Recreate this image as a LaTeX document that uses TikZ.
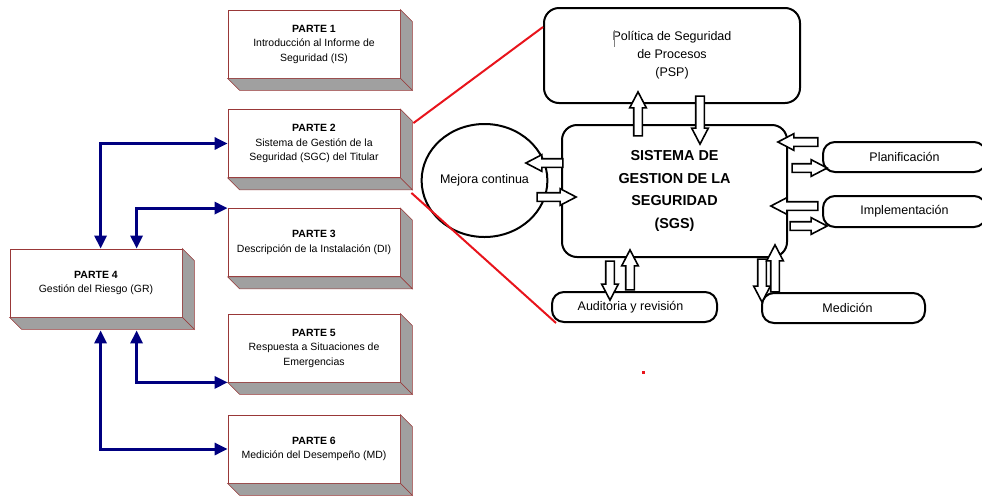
\documentclass[tikz,border=0pt]{standalone}
\usepackage{fontspec}
\setmainfont{Liberation Sans}
\usetikzlibrary{shapes.arrows,shapes.geometric,arrows.meta,calc}
\definecolor{boxedge}{HTML}{993838}
\definecolor{faceg}{HTML}{A0A0A0}
\definecolor{navyb}{HTML}{000080}
\definecolor{redl}{HTML}{E8141C}
\newcommand{\depthfaces}[1]{%
  \filldraw[facestyle] (#1.north east) -- ++(12,12) -- ($(#1.south east)+(12,12)$) -- (#1.south east) -- cycle;
  \filldraw[facestyle] (#1.south west) -- ++(12,12) -- ($(#1.south east)+(12,12)$) -- (#1.south east) -- cycle;
}
\tikzset{
  facestyle/.style={fill=faceg, draw=boxedge, line width=0.6pt},
  partbox/.style={draw=boxedge, line width=0.8pt, fill=white, minimum width=172pt, minimum height=68pt,
    inner sep=0pt, align=center, font=\fontsize{10.5}{14.5}\selectfont},
  blueline/.style={draw=navyb, line width=3pt,
    {Triangle[length=13pt,width=12pt]}-{Triangle[length=13pt,width=12pt]}},
  redline/.style={draw=redl, line width=2pt},
  rbox/.style={draw=black, line width=2pt, fill=white, rounded corners=15pt, inner sep=0pt, align=center},
  sbox/.style={draw=black, line width=2pt, fill=white, rounded corners=12pt, inner sep=0pt, align=center,
    font=\fontsize{12.5}{15}\selectfont},
  blockar/.style={single arrow, draw=black, fill=white, line width=1.6pt,
    single arrow head extend=4pt, single arrow tip angle=55, inner sep=3.5pt,
    minimum height=#1},
}
\begin{document}
\begin{tikzpicture}[x=1pt,y=-1pt]
\useasboundingbox (0,0) rectangle (982,496);
% left part boxes
\node[partbox] (P1) at (314,44) {\textbf{PARTE 1}\\Introducción al Informe de\\Seguridad (IS)};
\node[partbox] (P2) at (314,143.5) {\textbf{PARTE 2}\\Sistema de Gestión de la\\Seguridad (SGC) del Titular};
\node[partbox] (P3) at (314,242.5) {\textbf{PARTE 3}\\Descripción de la Instalación (DI)};
\node[partbox] (P4) at (96,283) {\textbf{PARTE 4}\\Gestión del Riesgo (GR)};
\node[partbox] (P5) at (314,348) {\textbf{PARTE 5}\\Respuesta a Situaciones de\\Emergencias};
\node[partbox] (P6) at (314,449) {\textbf{PARTE 6}\\Medición del Desempeño (MD)};
\depthfaces{P1}\depthfaces{P2}\depthfaces{P3}\depthfaces{P4}\depthfaces{P5}\depthfaces{P6}
% blue connectors
\draw[blueline] ($(P4.north west)+(91,0)$) |- (P2.west);
\draw[blueline] ($(P4.north west)+(127,0)$) |- (P3.north west);
\draw[blueline] ($(P4.south west)+(127,13)$) |- (P5.south west);
\draw[blueline] ($(P4.south west)+(91,13)$) |- (P6.west);
% right part
\node[rbox, minimum width=256pt, minimum height=95pt, font=\fontsize{12.5}{18}\selectfont] (PSP) at (672,55.5)
  {\rule{0pt}{6pt}Política de Seguridad\\de Procesos\\(PSP)};
\draw[gray, line width=0.6pt] (614,30) -- (614,47);
\node[rbox, minimum width=225pt, minimum height=132pt, font=\fontsize{14.4}{22.7}\selectfont\bfseries] (SGS) at (674.5,191)
  {SISTEMA DE\\GESTION DE LA\\SEGURIDAD\\(SGS)};
\node[ellipse, draw=black, line width=2pt, fill=white, minimum width=119pt, minimum height=113pt, inner sep=0pt,
  font=\fontsize{12.5}{15}\selectfont] (MC) at (484.5,180.5) {Mejora continua};
\node[sbox, minimum width=163pt, minimum height=30pt] (PL) at (904.5,157) {Planificación};
\node[sbox, minimum width=163pt, minimum height=31pt] (IM) at (904.5,211.5) {Implementación};
\node[sbox, minimum width=163pt, minimum height=30pt] (ME) at (843.5,308) {\hspace*{8pt}Medición};
\node[sbox, minimum width=165pt, minimum height=30pt] (AU) at (634.5,307) {Auditoria y revisión\hspace*{8pt}};
% red lines
\draw[redline] ($(P2.north east)+(13,14)$) -- ($(PSP.north west)+(0,20)$);
\draw[redline] ($(P2.south east)+(11,15)$) -- ($(AU.south west)+(5,0)$);
\node[fill=redl, minimum size=3pt, inner sep=0pt] (dot) at (643,372) {};
% block arrows
\node[blockar=44pt, shape border rotate=90] (a1) at (638,118) {};
\node[blockar=48pt, shape border rotate=270] (a2) at (700,116) {};
\node[blockar=37pt, shape border rotate=180] (a3) at (548.5,163) {};
\node[blockar=39pt, shape border rotate=0] (a4) at (552.5,197) {};
\node[blockar=40pt, shape border rotate=180] (a5) at (802,142) {};
\node[blockar=35pt, shape border rotate=0] (a6) at (805.5,168) {};
\node[blockar=47pt, shape border rotate=180] (a7) at (798.5,206) {};
\node[blockar=37pt, shape border rotate=0] (a8) at (804.5,226) {};
\node[blockar=39pt, shape border rotate=270] (a9) at (610,276.5) {};
\node[blockar=40pt, shape border rotate=90] (a10) at (630,274) {};
\node[blockar=43pt, shape border rotate=270] (a11) at (762,276.5) {};
\node[blockar=47pt, shape border rotate=90] (a12) at (775,272.5) {};
\end{tikzpicture}
\end{document}
